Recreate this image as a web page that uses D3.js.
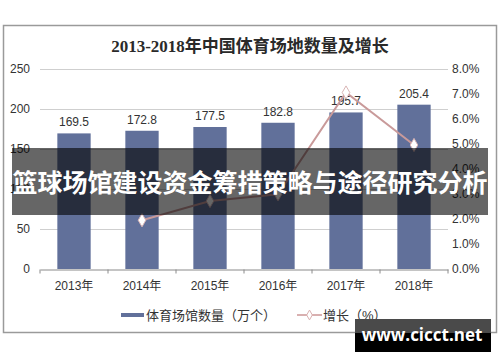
<!DOCTYPE html>
<html>
<head>
<meta charset="utf-8">
<script src="https://cdn.jsdelivr.net/npm/d3@7"></script>
<style>
  body { margin: 0; background: #fff; }
  svg { display: block; }
</style>
</head>
<body>
<svg class="target"></svg>
<script>
// chart data
const years = ["2013年", "2014年", "2015年", "2016年", "2017年", "2018年"];
const venues = [169.5, 172.8, 177.5, 182.8, 195.7, 205.4];
const growth = [null, 1.95, 2.72, 2.99, 7.06, 4.96];
const leftTicks = [0, 50, 100, 150, 200, 250];
const rightTicks = [0, 1, 2, 3, 4, 5, 6, 7, 8];

document.addEventListener("DOMContentLoaded", function() {
    drawChart();
});

function drawChart() {
    const width = 500;
    const height = 362;
    const svg = d3.select(".target")
        .attr("width", width)
        .attr("height", height);

    const sans = "'Liberation Sans', Arial, 'Noto Sans CJK SC', sans-serif";

    // outer frame
    svg.append("rect")
        .attr("x", 3.5).attr("y", 25.5)
        .attr("width", 493).attr("height", 307)
        .attr("fill", "#fff")
        .attr("stroke", "#9a9a9a")
        .attr("stroke-width", 1.5);

    svg.append("text")
        .attr("x", 250).attr("y", 52)
        .attr("text-anchor", "middle")
        .style("font-family", "'Liberation Serif', 'Noto Sans CJK SC', serif")
        .style("font-size", "17px")
        .style("font-weight", "bold")
        .attr("fill", "#2a2a2a")
        .text("2013-2018年中国体育场地数量及增长");

    const x = d3.scaleBand().domain(years).range([40, 448]).paddingInner(0.51).paddingOuter(0.255);
    const y = d3.scaleLinear().domain([0, 250]).range([269, 69]);
    const y2 = d3.scaleLinear().domain([0, 8]).range([269, 69]);

    // gridlines
    svg.append("g")
        .selectAll("line")
        .data(leftTicks.filter(d => d > 0))
        .enter().append("line")
        .attr("x1", 40).attr("x2", 448)
        .attr("y1", d => Math.round(y(d)) + 0.5)
        .attr("y2", d => Math.round(y(d)) + 0.5)
        .attr("stroke", "#cfcfcf");

    // left axis
    const yAxis = svg.append("g")
        .attr("transform", "translate(40,0)")
        .call(d3.axisLeft(y).tickValues(leftTicks).tickSize(0).tickPadding(10));
    yAxis.select(".domain").remove();
    yAxis.selectAll("text").style("font-family", sans).style("font-size", "12px").attr("fill", "#333");

    // right axis
    const y2Axis = svg.append("g")
        .attr("transform", "translate(448,0)")
        .call(d3.axisRight(y2).tickValues(rightTicks).tickSize(0).tickPadding(4)
            .tickFormat(d => d.toFixed(1) + "%"));
    y2Axis.select(".domain").remove();
    y2Axis.selectAll("text").style("font-family", sans).style("font-size", "12px").attr("fill", "#333");

    // bars
    svg.append("g")
        .selectAll("rect")
        .data(venues)
        .enter().append("rect")
        .attr("x", (d, i) => x(years[i]))
        .attr("y", d => y(d))
        .attr("width", x.bandwidth())
        .attr("height", d => y(0) - y(d))
        .attr("fill", "#61709a");

    svg.append("g")
        .selectAll("text")
        .data(venues)
        .enter().append("text")
        .attr("x", (d, i) => x(years[i]) + x.bandwidth() / 2)
        .attr("y", d => y(d) - 7)
        .attr("text-anchor", "middle")
        .style("font-family", sans)
        .style("font-size", "12px")
        .attr("fill", "#333")
        .text(d => d.toFixed(1));

    // x axis
    const xAxis = svg.append("g")
        .attr("transform", "translate(0,269.5)")
        .call(d3.axisBottom(x).tickSize(0).tickPadding(12));
    xAxis.select(".domain").attr("stroke", "#8a8a8a");
    xAxis.selectAll("text").style("font-family", sans).style("font-size", "12px").attr("fill", "#333");
    const step = x.step();
    xAxis.selectAll(".sep")
        .data(d3.range(years.length + 1))
        .enter().append("line")
        .attr("x1", i => 40 + i * step).attr("x2", i => 40 + i * step)
        .attr("y1", 0).attr("y2", 4)
        .attr("stroke", "#8a8a8a");

    // growth line
    const pts = growth.map((g, i) => [x(years[i]) + x.bandwidth() / 2, g]).filter(p => p[1] !== null);
    const line = d3.line().x(p => p[0]).y(p => y2(p[1]));
    svg.append("path")
        .datum(pts)
        .attr("d", line)
        .attr("fill", "none")
        .attr("stroke", "#c99a9a")
        .attr("stroke-width", 2);

    const diamond = d3.symbol().type(d3.symbolDiamond).size(50);
    svg.append("g")
        .selectAll("path")
        .data(pts)
        .enter().append("path")
        .attr("d", diamond)
        .attr("transform", p => "translate(" + p[0] + "," + y2(p[1]) + ")")
        .attr("fill", "#fff")
        .attr("stroke", "#d9b5b5")
        .attr("stroke-width", 1);

    // legend
    const lg = svg.append("g").style("font-family", sans).style("font-size", "13px");
    lg.append("rect").attr("x", 121).attr("y", 313).attr("width", 23).attr("height", 4).attr("fill", "#61709a");
    lg.append("text").attr("x", 146).attr("y", 320).attr("fill", "#333").text("体育场馆数量（万个）");
    lg.append("line").attr("x1", 297).attr("x2", 322).attr("y1", 315).attr("y2", 315)
        .attr("stroke", "#d9b0b0").attr("stroke-width", 2);
    lg.append("path").attr("d", d3.symbol().type(d3.symbolDiamond).size(28))
        .attr("transform", "translate(309.5,315)")
        .attr("fill", "#fff").attr("stroke", "#d9b0b0");
    lg.append("text").attr("x", 323).attr("y", 320).attr("fill", "#333").text("增长（%）");

    // overlay banner
    svg.append("rect")
        .attr("x", 12).attr("y", 148)
        .attr("width", 476).attr("height", 67)
        .attr("fill", "rgba(0,0,0,0.6)");
    svg.append("text")
        .attr("x", 250).attr("y", 192)
        .attr("text-anchor", "middle")
        .style("font-family", "'Noto Sans CJK SC', sans-serif")
        .style("font-size", "25px")
        .style("font-weight", "bold")
        .attr("fill", "#fff")
        .text("篮球场馆建设资金筹措策略与途径研究分析");

    // watermark
    svg.append("rect").attr("x", 355).attr("y", 319).attr("width", 136).attr("height", 33).attr("fill", "#000");
    svg.append("rect").attr("x", 355).attr("y", 319).attr("width", 136).attr("height", 14).attr("fill", "#4a4a4a");
    svg.append("text")
        .attr("x", 422).attr("y", 341)
        .attr("text-anchor", "middle")
        .style("font-family", "'Open Sans', 'Liberation Sans', sans-serif")
        .style("font-size", "17px")
        .style("font-weight", "bold")
        .attr("fill", "#fff")
        .text("www.cicct.net");
}
</script>
</body>
</html>
